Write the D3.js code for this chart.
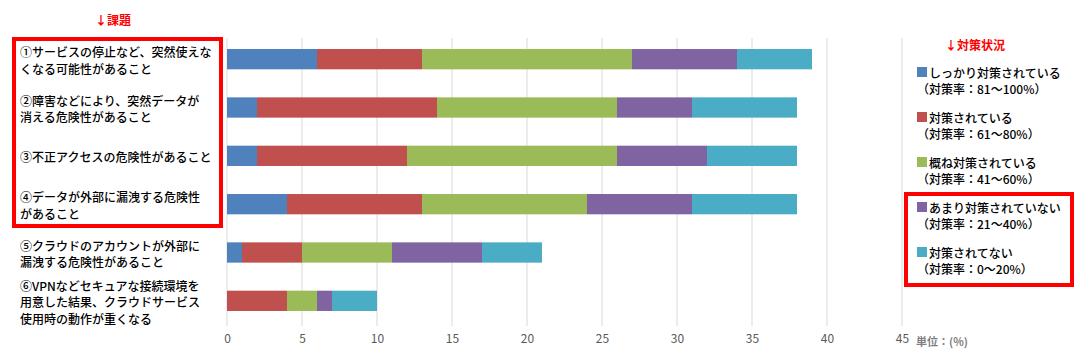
<!DOCTYPE html>
<html>
<head>
<meta charset="utf-8">
<script src="https://cdn.jsdelivr.net/npm/d3@7"></script>
<style>
  body { margin: 0; background: #fff; }
  text { font-family: "Noto Sans CJK JP", "Noto Sans", sans-serif; }
</style>
</head>
<body>
<script>
// categories (each label split into its printed lines)
const categories = [
    ["①サービスの停止など、突然使えな", "くなる可能性があること"],
    ["②障害などにより、突然データが", "消える危険性があること"],
    ["③不正アクセスの危険性があること"],
    ["④データが外部に漏洩する危険性", "があること"],
    ["⑤クラウドのアカウントが外部に", "漏洩する危険性があること"],
    ["⑥VPNなどセキュアな接続環境を", "用意した結果、クラウドサービス", "使用時の動作が重くなる"]
];
const seriesNames = ["しっかり対策されている", "対策されている", "概ね対策されている", "あまり対策されていない", "対策されてない"];
const seriesRanges = ["（対策率：81～100%）", "（対策率：61～80%）", "（対策率：41～60%）", "（対策率：21～40%）", "（対策率：0～20%）"];
const seriesColors = ["#4F81BD", "#C0504D", "#9BBB59", "#8064A2", "#4BACC6"];

// one array per series, in category order
const valuesFirm = [6, 2, 2, 4, 1, 0];
const valuesDone = [7, 12, 10, 9, 4, 4];
const valuesMostly = [14, 12, 14, 11, 6, 2];
const valuesLittle = [7, 5, 6, 7, 6, 1];
const valuesNone = [5, 7, 6, 7, 4, 3];
const xTicks = [0, 5, 10, 15, 20, 25, 30, 35, 40, 45];

const width = 1089, height = 361;
const svg = d3.select("body").append("svg")
    .attr("width", width)
    .attr("height", height);

const x = d3.scaleLinear().domain([0, 45]).range([227, 902]);
const y = d3.scaleBand().domain(d3.range(categories.length)).range([35, 325]).paddingInner(0.58).paddingOuter(0.29);

//build rows for the stack
const allSeries = [valuesFirm, valuesDone, valuesMostly, valuesLittle, valuesNone];
const rows = categories.map((c, i) => {
    let r = {idx: i};
    allSeries.forEach((s, k) => r["s" + k] = s[i]);
    return r;
});
const stack = d3.stack().keys(allSeries.map((s, k) => "s" + k))(rows);

//gridlines
svg.append("g").selectAll("line")
    .data(xTicks)
    .enter()
    .append("line")
    .attr("x1", (d) => x(d)).attr("x2", (d) => x(d))
    .attr("y1", 38).attr("y2", 326)
    .attr("stroke", "#d9d9d9")
    .attr("stroke-width", 1);

//bars
svg.append("g").selectAll("g")
    .data(stack)
    .enter()
    .append("g")
    .attr("fill", (d, k) => seriesColors[k])
    .selectAll("rect")
    .data((d) => d)
    .enter()
    .append("rect")
    .attr("x", (d) => x(d[0]))
    .attr("y", (d) => y(d.data.idx))
    .attr("width", (d) => x(d[1]) - x(d[0]))
    .attr("height", y.bandwidth());

//x axis
const xAxis = d3.axisBottom(x).tickValues(xTicks).tickSize(0).tickPadding(0);
const gx = svg.append("g")
    .attr("transform", "translate(0,334)")
    .call(xAxis);
gx.select(".domain").remove();
gx.selectAll("text")
    .attr("fill", "#595959")
    .attr("font-size", 12)
    .attr("font-family", "'DejaVu Sans', sans-serif");

svg.append("text")
    .attr("x", 916)
    .attr("y", 346)
    .attr("fill", "#7f7f7f")
    .attr("font-size", 11)
    .attr("font-weight", "bold")
    .text("単位：(%)");

//category labels
const lineH = 16.5;
const labels = svg.append("g").selectAll("text")
    .data(categories)
    .enter()
    .append("text")
    .attr("font-size", 12)
    .attr("font-weight", 500)
    .attr("fill", "#000");
labels.each(function(lines, i) {
    const cy = y(i) + y.bandwidth() / 2 + 1 - (lines.length - 1) * lineH / 2;
    d3.select(this).selectAll("tspan")
        .data(lines)
        .enter()
        .append("tspan")
        .attr("x", 20)
        .attr("y", (d, j) => cy + j * lineH)
        .attr("dominant-baseline", "central")
        .text((d) => d);
});

svg.append("rect")
    .attr("x", 14).attr("y", 39).attr("width", 207).attr("height", 187)
    .attr("fill", "none").attr("stroke", "#ff0000").attr("stroke-width", 4);

svg.append("text")
    .attr("x", 95).attr("y", 25)
    .attr("fill", "#ff0000")
    .attr("font-size", 12)
    .attr("font-weight", "bold")
    .text("↓課題");

//legend
svg.append("text")
    .attr("x", 945).attr("y", 50)
    .attr("fill", "#ff0000")
    .attr("font-size", 12)
    .attr("font-weight", "bold")
    .text("↓対策状況");

const legend = svg.append("g").selectAll("g")
    .data(seriesNames)
    .enter()
    .append("g")
    .attr("transform", (d, k) => `translate(917,${72 + k * 45})`);
legend.append("rect")
    .attr("x", 0).attr("y", -5)
    .attr("width", 10).attr("height", 10)
    .attr("fill", (d, k) => seriesColors[k]);
legend.append("text")
    .attr("x", 12).attr("y", 0)
    .attr("dominant-baseline", "central")
    .attr("font-size", 12)
    .attr("font-weight", 500)
    .text((d) => d);
legend.append("text")
    .attr("x", 0).attr("y", 16)
    .attr("dominant-baseline", "central")
    .attr("font-size", 12)
    .attr("font-weight", 500)
    .text((d, k) => seriesRanges[k]);

svg.append("rect")
    .attr("x", 906).attr("y", 194).attr("width", 166).attr("height", 91)
    .attr("fill", "none").attr("stroke", "#ff0000").attr("stroke-width", 4);
</script>
</body>
</html>
